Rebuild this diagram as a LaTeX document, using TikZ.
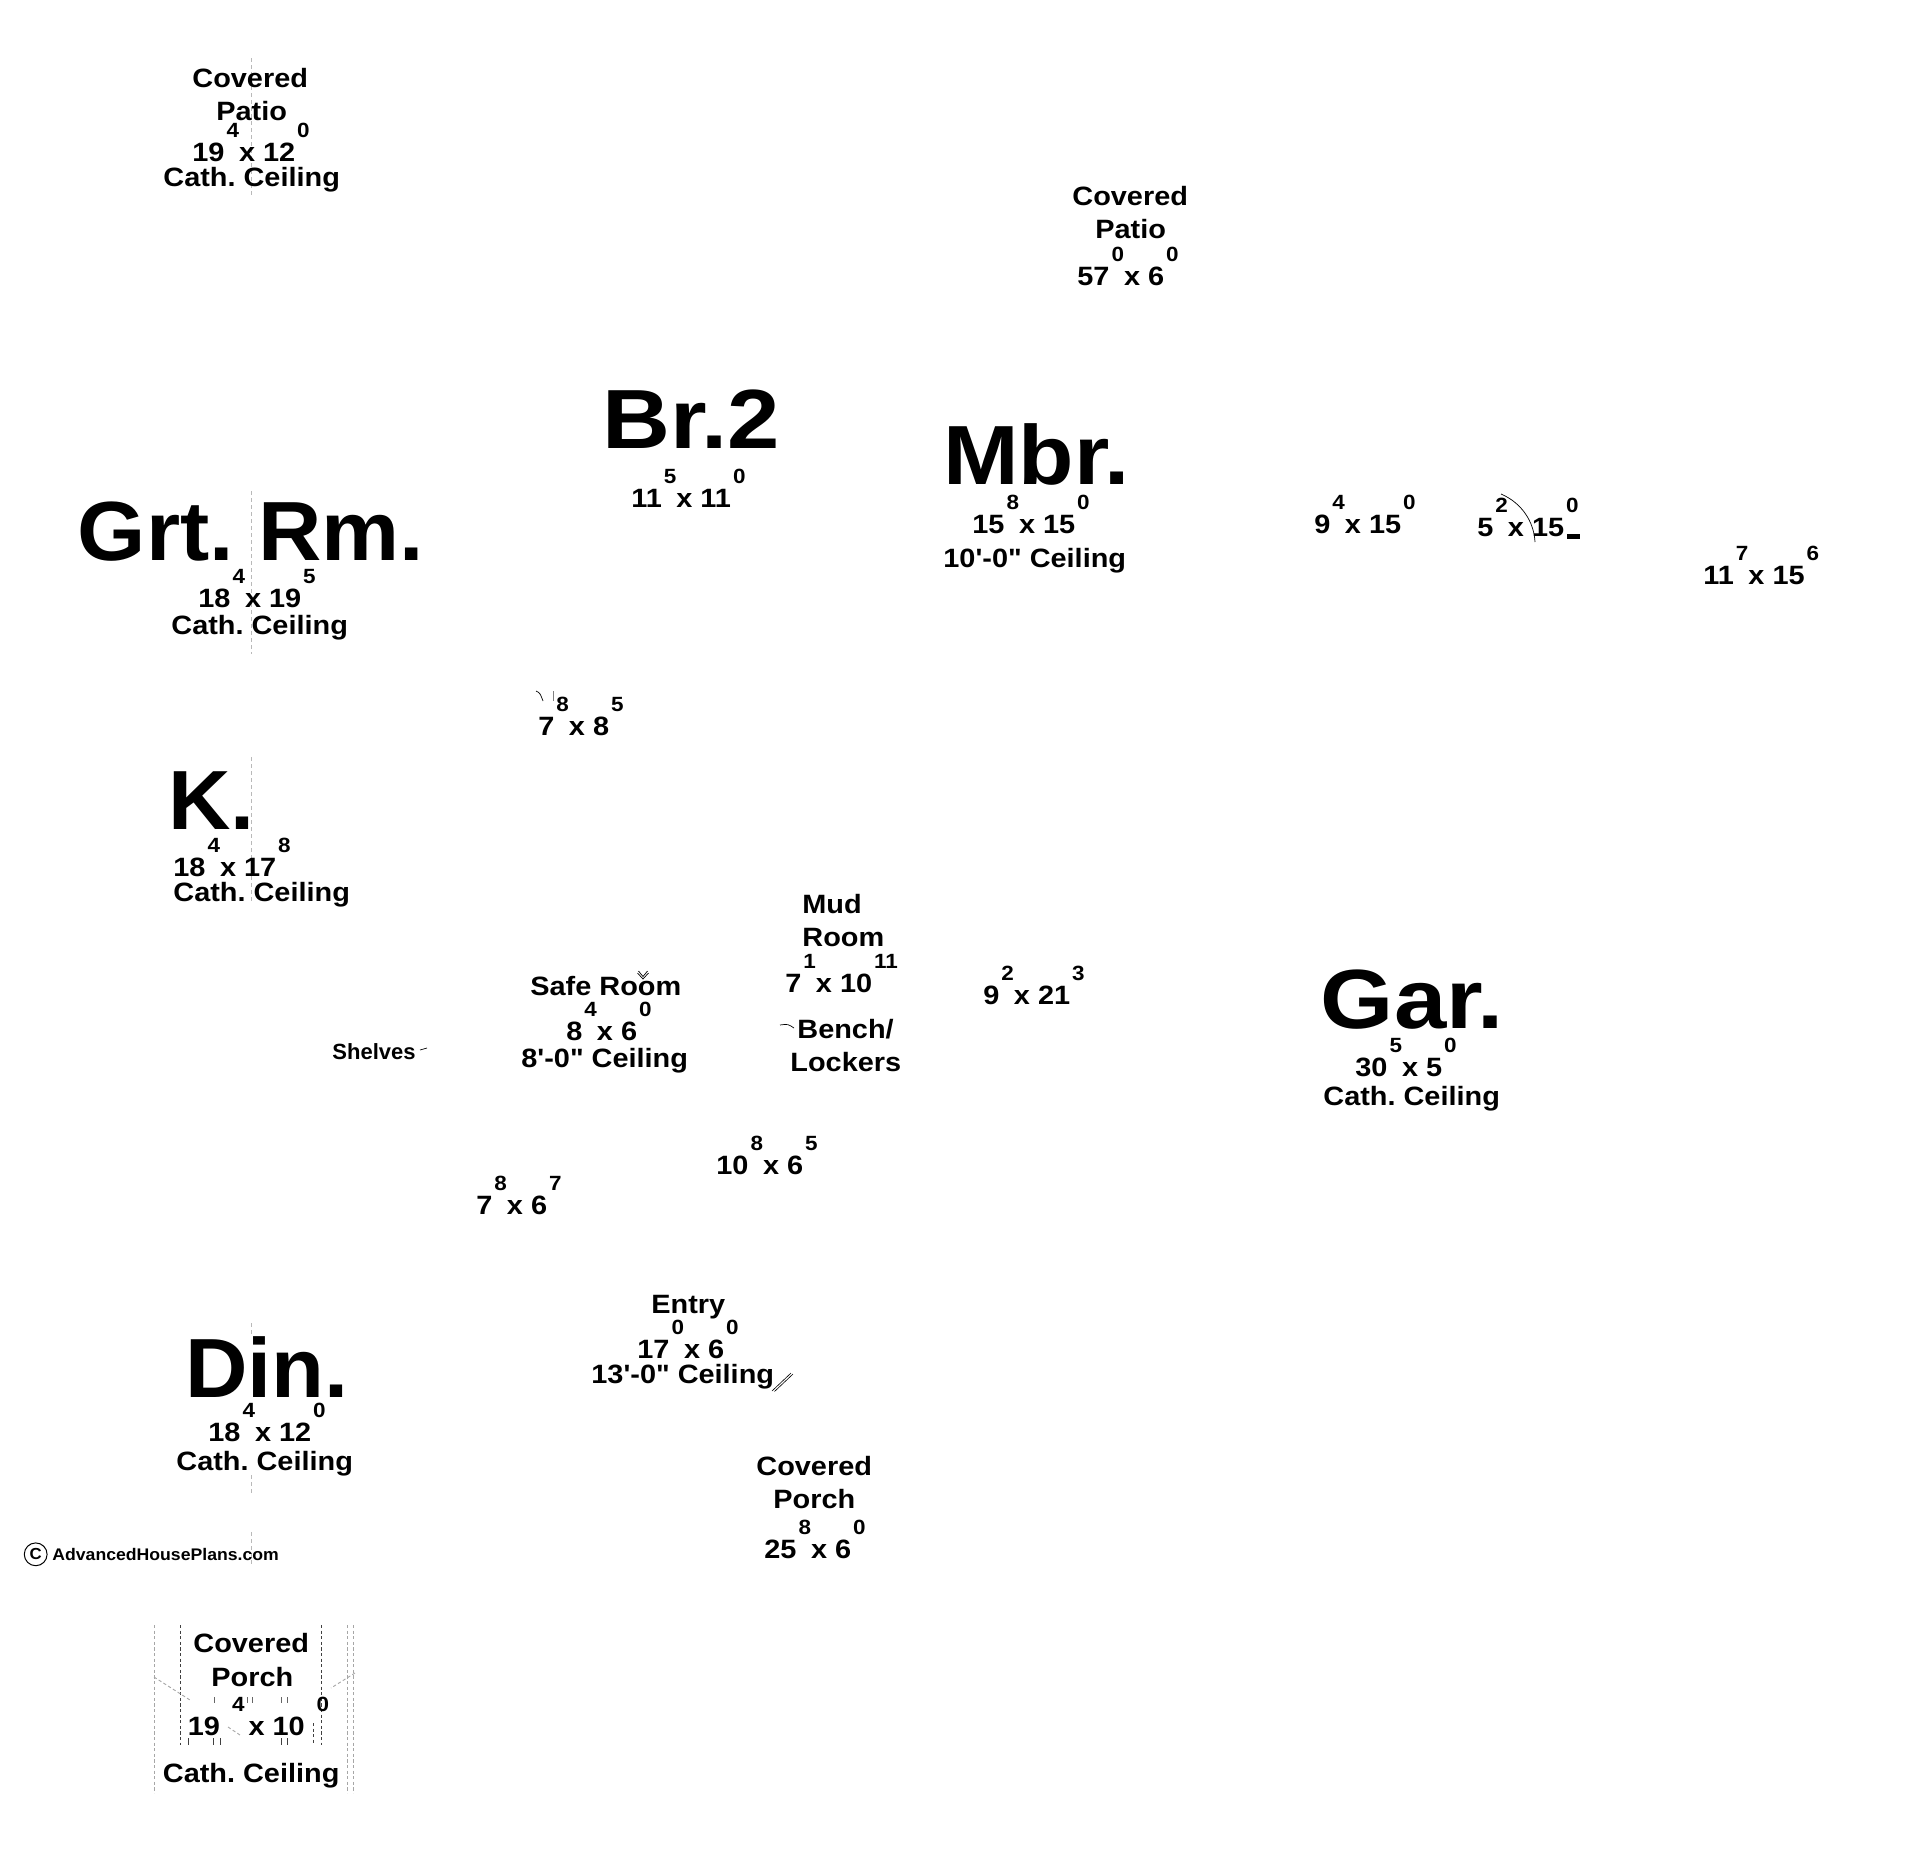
\documentclass[tikz,border=0pt]{standalone}
\usepackage{graphicx}
\usepackage{fontspec}
\newfontfamily\dimf[FakeStretch=1.09]{Liberation Sans}
\newfontfamily\bigf{Liberation Sans}
\newfontfamily\logof[FakeStretch=1.05]{Liberation Sans}
\newcommand\supx[1]{\raisebox{12pt}{\fontsize{10.3}{10}\selectfont #1}}
\newcommand\dimx[4]{#1\kern1pt\supx{#2}x #3\kern1pt\supx{#4}}
\newcommand\wide[2]{\scalebox{#1}[1]{#2}}
\frenchspacing
\tikzset{
  lbl/.style={font=\dimf\bfseries\fontsize{13.25}{14}\selectfont\frenchspacing, anchor=base west, inner sep=0pt},
  big/.style={font=\bigf\bfseries\fontsize{42}{42}\selectfont\frenchspacing, anchor=base west, inner sep=0pt},
  smalllbl/.style={font=\bigf\bfseries\fontsize{11}{12}\selectfont, anchor=base west, inner sep=0pt},
  logotxt/.style={font=\logof\bfseries\fontsize{8.4}{9}\selectfont, anchor=base west, inner sep=0pt},
  cline/.style={gray!55, line width=0.5pt, dash pattern=on 2pt off 1.5pt},
  pdark/.style={black!75, line width=0.5pt, dash pattern=on 1.6pt off 1.2pt},
  plight/.style={gray!70, line width=0.45pt, dash pattern=on 1.6pt off 1.2pt},
  thinmark/.style={line width=0.35pt}
}
\begin{document}
\begin{tikzpicture}[x=0.5pt,y=-0.5pt]
\useasboundingbox (0,0) rectangle (1927,1869);
\fill[white] (0,0) rectangle (1927,1869);

% centre dashed guide lines
\draw[cline] (251,58) -- (251,196);
\draw[cline] (251,491) -- (251,654);
\draw[cline] (251,757) -- (251,902);
\draw[cline] (251,1323) -- (251,1336);
\draw[cline] (251,1475) -- (251,1495);
\draw[cline] (251,1532) -- (251,1566);

% Covered Patio (left)
\node[lbl] (cp1a) at (192,87) {Covered};
\node[lbl] (cp1b) at (216,120.5) {Patio};
\node[lbl] (cp1c) at (192,161.6) {\dimx{19}{4}{12}{0}};
\node[lbl] (cp1d) at (163,186) {Cath. Ceiling};

% Covered Patio (right)
\node[lbl] (cp2a) at (1072,205) {Covered};
\node[lbl] (cp2b) at (1095,238) {Patio};
\node[lbl] (cp2c) at (1077,285) {\dimx{57}{0}{6}{0}};

% Grt. Rm.
\node[big] (grt) at (77.5,560) {\wide{1.045}{Grt. Rm.}};
\node[lbl] (grtd) at (198,607) {\dimx{18}{4}{19}{5}};
\node[lbl] (grtc) at (171,634) {Cath. Ceiling};

% Br.2
\node[big] (br2) at (602,448.7) {\wide{1.12}{Br.2}};
\node[lbl] (br2d) at (631,507) {\dimx{11}{5}{11}{0}};

% Mbr.
\node[big] (mbr) at (943,484) {\wide{1.08}{Mbr.}};
\node[lbl] (mbrd) at (972,533.5) {\dimx{15}{8}{15}{0}};
\node[lbl] (mbrc) at (943,567) {10'-0" Ceiling};

% right rooms
\node[lbl] (r1) at (1314,533) {\dimx{9}{4}{15}{0}};
\node[lbl] (r2) at (1477,536) {\dimx{5}{2}{15}{0}};
\fill (1567,534) rectangle (1580,539);
\draw[thinmark] (1501,494) .. controls (1522,503) and (1534,522) .. (1535,542);
\node[lbl] (r3) at (1703,584) {\dimx{11}{7}{15}{6}};

% small room 7 x 8
\node[lbl] (r4) at (538,735) {\dimx{7}{8}{8}{5}};
\draw[thinmark] (536,691) .. controls (540,693) .. (543,701);
\draw[gray, line width=0.4pt] (553,691) -- (553,701);

% K.
\node[big] (kit) at (168,829) {\wide{1.03}{K.}};
\node[lbl] (kitd) at (173,876) {\dimx{18}{4}{17}{8}};
\node[lbl] (kitc) at (173,901) {Cath. Ceiling};

% Mud Room
\node[lbl] (muda) at (802,913) {Mud};
\node[lbl] (mudb) at (802,946) {Room};
\node[lbl] (mudd) at (785,992) {\dimx{7}{1}{10}{11}};
\node[lbl] (bench) at (797,1038) {Bench/};
\node[lbl] (lock) at (790,1071) {Lockers};
\draw[thinmark] (780,1025) .. controls (788,1024) .. (794,1028);

% Safe Room
\node[lbl] (safe) at (530,995) {Safe Room};
\node[lbl] (safed) at (566,1040) {\dimx{8}{4}{6}{0}};
\node[lbl] (safec) at (521,1067) {8'-0" Ceiling};
\draw[thinmark] (637.5,973) -- (643,979) -- (648.5,973);
\draw[thinmark] (638.5,971) -- (643,976.5) -- (647.5,971);

% 9 x 21
\node[lbl] (r5) at (983,1004) {\dimx{9}{2}{21}{3}};

% Gar.
\node[big] (gar) at (1320.5,1028) {\wide{1.12}{Gar.}};
\node[lbl] (gard) at (1355,1076) {\dimx{30}{5}{5}{0}};
\node[lbl] (garc) at (1323,1105) {Cath. Ceiling};

% Shelves
\node[smalllbl] (shelves) at (332,1059) {Shelves};
\draw[thinmark] (420,1050) -- (427,1048);

% small rooms
\node[lbl] (r6) at (716,1174) {\dimx{10}{8}{6}{5}};
\node[lbl] (r7) at (476,1214) {\dimx{7}{8}{6}{7}};

% Entry
\node[lbl] (entry) at (651,1313) {Entry};
\node[lbl] (entryd) at (637,1358) {\dimx{17}{0}{6}{0}};
\node[lbl] (entryc) at (591,1383) {13'-0" Ceiling};
\draw[line width=0.3pt] (772,1391) -- (791,1373);
\draw[line width=0.3pt] (774.5,1391.5) -- (793,1374);

% Din.
\node[big] (din) at (185,1397) {\wide{1.03}{Din.}};
\node[lbl] (dind) at (208,1441) {\dimx{18}{4}{12}{0}};
\node[lbl] (dinc) at (176,1470) {Cath. Ceiling};

% Covered Porch (middle)
\node[lbl] (cpa) at (756,1475) {Covered};
\node[lbl] (cpb) at (773,1508) {Porch};
\node[lbl] (cpd) at (764,1558) {\dimx{25}{8}{6}{0}};

% logo
\node[draw, circle, line width=0.5pt, minimum size=11.4pt, inner sep=0pt,
      font=\logof\bfseries\fontsize{8}{8}\selectfont] (logoc) at (35.7,1554.3) {C};
\node[logotxt] (logot) at (52,1560) {AdvancedHousePlans.com};

% Covered Porch (bottom left)
\draw[plight] (154,1625) -- (154,1793);
\draw[pdark] (180,1625) -- (180,1745);
\draw[pdark] (321,1625) -- (321,1745);
\draw[plight] (347,1625) -- (347,1793);
\draw[plight] (353,1625) -- (353,1793);
\draw[pdark] (313,1723) -- (313,1745);
\foreach \xx in {188,213,220,281,287} { \draw[black!75, line width=0.5pt] (\xx,1738) -- (\xx,1745); }
\foreach \xx in {214,247,252,281,287} { \draw[black!60, line width=0.4pt] (\xx,1697) -- (\xx,1703); }
\draw[plight] (154,1677) -- (190,1700);
\draw[plight] (228,1727) -- (240,1735);
\draw[plight] (355,1673) -- (331,1688);
\node[lbl] (bpa) at (193,1652) {Covered};
\node[lbl] (bpb) at (211,1686) {Porch};
\node[lbl] (bpd) at (187.5,1735) {19\kern6pt\supx{4}\kern2pt x 10\kern6pt\supx{0}};
\node[lbl] (bpc) at (162.5,1782) {Cath. Ceiling};
\end{tikzpicture}
\end{document}
